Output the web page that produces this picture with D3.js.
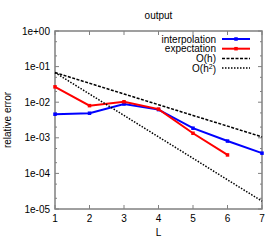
<!DOCTYPE html>
<html>
<head>
<meta charset="utf-8">
<script src="https://cdn.jsdelivr.net/npm/d3@7"></script>
<style>
  body { margin: 0; background: #fff; }
  text { font-family: "Liberation Sans", Arial, sans-serif; font-size: 10px; fill: #000; }
</style>
</head>
<body>
<script>
var levels = [1, 2, 3, 4, 5, 6, 7];
var interpolation = [4.6e-3, 4.9e-3, 8.9e-3, 6.2e-3, 1.86e-3, 8.1e-4, 3.7e-4];
var expectation = [2.7e-2, 8.0e-3, 1.03e-2, 6.4e-3, 1.34e-3, 3.3e-4];
var orderH = [6.8e-2, 3.4e-2, 1.7e-2, 8.5e-3, 4.25e-3, 2.13e-3, 1.06e-3];
var orderH2 = [6.8e-2, 1.7e-2, 4.25e-3, 1.06e-3, 2.66e-4, 6.6e-5, 1.66e-5];
var yTicks = [1, 1e-1, 1e-2, 1e-3, 1e-4, 1e-5];
var yTickLabels = ["1e+00", "1e-01", "1e-02", "1e-03", "1e-04", "1e-05"];

(function() {
  var width = 280, height = 240;
  var pLeft = 55, pRight = 262, pTop = 31, pBottom = 209;

  var svg = d3.select("body").append("svg")
    .attr("width", width)
    .attr("height", height);

  var x = d3.scaleLinear().domain([1, 7]).range([pLeft, pRight]);
  var y = d3.scaleLog().domain([1e-5, 1]).range([pBottom, pTop]);

  var axisColor = "#808080";

  // minor ticks at 2 and 5 of each decade
  var minor = [];
  yTicks.slice(1).forEach(function(d) { minor.push(d * 2, d * 5); });

  var ticks = svg.append("g").attr("stroke", axisColor).attr("stroke-width", 1);
  yTicks.forEach(function(d) {
    ticks.append("line").attr("x1", pLeft).attr("x2", pLeft + 4).attr("y1", y(d)).attr("y2", y(d));
    ticks.append("line").attr("x1", pRight).attr("x2", pRight - 4).attr("y1", y(d)).attr("y2", y(d));
  });
  minor.forEach(function(d) {
    ticks.append("line").attr("x1", pLeft).attr("x2", pLeft + 2).attr("y1", y(d)).attr("y2", y(d));
    ticks.append("line").attr("x1", pRight).attr("x2", pRight - 2).attr("y1", y(d)).attr("y2", y(d));
  });
  levels.forEach(function(d) {
    ticks.append("line").attr("x1", x(d)).attr("x2", x(d)).attr("y1", pBottom).attr("y2", pBottom - 4);
    ticks.append("line").attr("x1", x(d)).attr("x2", x(d)).attr("y1", pTop).attr("y2", pTop + 4);
  });

  svg.append("rect")
    .attr("x", pLeft).attr("y", pTop)
    .attr("width", pRight - pLeft).attr("height", pBottom - pTop)
    .attr("fill", "none").attr("stroke", axisColor).attr("stroke-width", 1.5);

  yTicks.forEach(function(d, i) {
    svg.append("text").attr("x", pLeft - 5).attr("y", y(d)).attr("dy", "0.35em")
      .attr("text-anchor", "end").text(yTickLabels[i]);
  });
  levels.forEach(function(d) {
    svg.append("text").attr("x", x(d)).attr("y", pBottom + 13)
      .attr("text-anchor", "middle").text(d);
  });

  svg.append("text").attr("x", (pLeft + pRight) / 2).attr("y", 19)
    .attr("text-anchor", "middle").text("output");
  svg.append("text").attr("x", (pLeft + pRight) / 2).attr("y", 236)
    .attr("text-anchor", "middle").text("L");
  svg.append("text")
    .attr("transform", "translate(11," + ((pTop + pBottom) / 2) + ") rotate(-90)")
    .attr("text-anchor", "middle").text("relative error");

  var line = d3.line()
    .x(function(d, i) { return x(levels[i]); })
    .y(function(d) { return y(d); });

  var series = [
    { name: "interpolation", values: interpolation, color: "#0000ff", dash: null, width: 2, pts: true },
    { name: "expectation", values: expectation, color: "#ff0000", dash: null, width: 2, pts: true },
    { name: "O(h)", values: orderH, color: "#000", dash: "3,1.5", width: 1.5, pts: false },
    { name: "O(h2)", values: orderH2, color: "#000", dash: "1.5,1.5", width: 1.5, pts: false }
  ];

  var plot = svg.append("g");
  series.forEach(function(s) {
    plot.append("path").datum(s.values)
      .attr("d", line)
      .attr("fill", "none")
      .attr("stroke", s.color)
      .attr("stroke-width", s.width)
      .attr("stroke-dasharray", s.dash);
    if (s.pts) {
      plot.selectAll(null).data(s.values).enter().append("rect")
        .attr("x", function(d, i) { return x(levels[i]) - 1.75; })
        .attr("y", function(d) { return y(d) - 1.75; })
        .attr("width", 3.5).attr("height", 3.5)
        .attr("fill", s.color);
    }
  });

  // legend
  var legend = svg.append("g");
  series.forEach(function(s, i) {
    var ly = 39 + i * 9.7;
    var t = legend.append("text").attr("x", 216).attr("y", ly).attr("dy", "0.35em")
      .attr("text-anchor", "end");
    if (s.name === "O(h2)") {
      t.text("O(h");
      t.append("tspan").attr("dy", "-0.4em").attr("font-size", "7px").text("2");
      t.append("tspan").attr("dy", "0.4em").text(")");
    } else {
      t.text(s.name);
    }
    legend.append("line").attr("x1", 222).attr("x2", 250).attr("y1", ly).attr("y2", ly)
      .attr("stroke", s.color).attr("stroke-width", s.width)
      .attr("stroke-dasharray", s.dash);
    if (s.pts) {
      legend.append("rect").attr("x", 234.25).attr("y", ly - 1.75).attr("width", 3.5).attr("height", 3.5)
        .attr("fill", s.color);
    }
  });
})();
</script>
</body>
</html>
